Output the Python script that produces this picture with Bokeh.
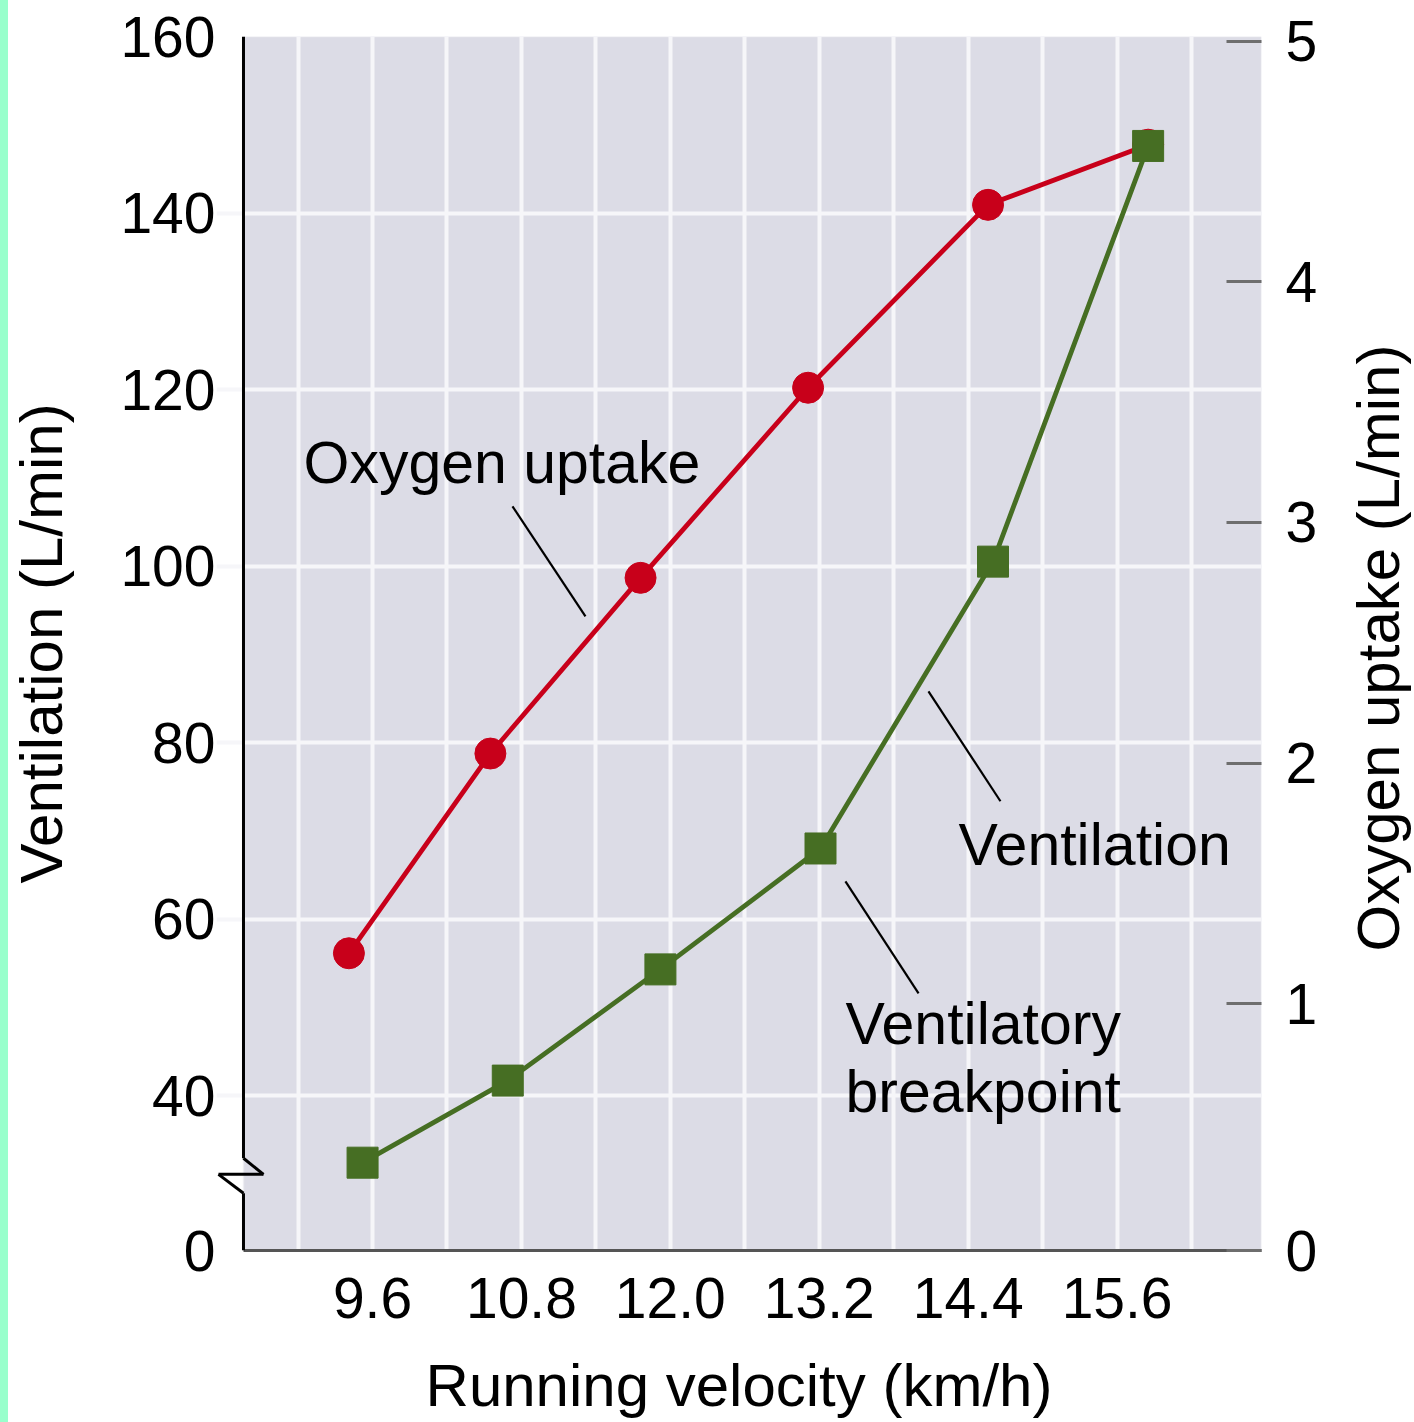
from bokeh.plotting import figure
from bokeh.layouts import row
from bokeh.models import (Range1d, LinearAxis, FixedTicker, CustomJSTickFormatter,
                          NumeralTickFormatter, Label, Arrow, BoxAnnotation, Div)
from bokeh.embed import file_html
from bokeh.resources import INLINE

# ---------------- data ----------------
velocity_o2 = [9.41, 10.55, 11.76, 13.11, 14.56, 15.85]      # km/h
oxygen_uptake = [1.21, 2.04, 2.77, 3.56, 4.32, 4.57]         # L/min (right axis)
velocity_ve = [9.52, 10.69, 11.92, 13.21, 14.60, 15.85]      # km/h
ventilation = [32.4, 41.7, 54.3, 68.0, 100.5, 147.6]         # L/min (left axis, broken)

x_ticks = [9.6, 10.8, 12.0, 13.2, 14.4, 15.6]
x_grid = [9.0, 9.6, 10.2, 10.8, 11.4, 12.0, 12.6, 13.2, 13.8, 14.4, 15.0, 15.6, 16.2]
left_ticks = [40, 60, 80, 100, 120, 140, 160]
right_ticks = [1, 2, 3, 4, 5]

# ---------------- ranges ----------------
X0, X1 = 8.3430, 16.7635         # frame (extends a bit left of the drawn axis)
X_AX = 8.5605                    # where the left axis line is drawn
VE0, VE1 = 22.45, 160.0          # left axis (broken: bottom shown as "0")
O20, O21 = -0.0251, 5.0195       # right axis

FONT = "Liberation Sans"
RED = "#c8001a"
GREEN = "#466e23"
BG = "#dcdce6"

p = figure(frame_width=1045, frame_height=1214,
           min_border_left=216, min_border_right=79,
           min_border_top=36, min_border_bottom=172,
           x_range=Range1d(X0, X1), y_range=Range1d(VE0, VE1),
           output_backend="svg", toolbar_location=None)
p.extra_y_ranges = {"o2": Range1d(O20, O21)}

p.background_fill_color = "white"
p.border_fill_color = "white"
p.outline_line_color = None

# plot area background (starts at the drawn axis)
p.add_layout(BoxAnnotation(left=X_AX, fill_color=BG, fill_alpha=1.0,
                           line_color="#ededf3", line_width=2, level="image"))

# grids
p.xgrid.ticker = FixedTicker(ticks=x_grid)
p.ygrid.ticker = FixedTicker(ticks=left_ticks)
for g in (p.xgrid, p.ygrid):
    g.grid_line_color = "#f6f6f9"
    g.grid_line_width = 4

# bottom axis
xa = p.xaxis[0]
xa.bounds = (X_AX, X1)
xa.ticker = FixedTicker(ticks=x_ticks)
xa.formatter = NumeralTickFormatter(format="0.0")
xa.axis_line_color = "#555555"
xa.axis_line_width = 3
xa.major_tick_line_color = None
xa.major_tick_out = 0
xa.major_tick_in = 0
xa.minor_tick_line_color = None
xa.major_label_standoff = 27
xa.major_label_text_font = FONT
xa.major_label_text_font_size = "57px"
xa.major_label_text_color = "black"
xa.axis_label = "Running velocity (km/h)"
xa.axis_label_text_font = FONT
xa.axis_label_text_font_size = "60px"
xa.axis_label_text_font_style = "normal"
xa.axis_label_text_color = "black"
xa.axis_label_standoff = 31

# left axis (ventilation)
ya = p.yaxis[0]
ya.ticker = FixedTicker(ticks=[VE0] + left_ticks)
ya.formatter = CustomJSTickFormatter(code="return tick < 30 ? '0' : tick.toFixed(0);")
ya.axis_line_color = None
ya.major_tick_line_color = None
ya.major_tick_out = 0
ya.major_tick_in = 0
ya.minor_tick_line_color = None
ya.major_label_standoff = 1
ya.major_label_text_font = FONT
ya.major_label_text_font_size = "57px"
ya.major_label_text_color = "black"
ya.axis_label = "Ventilation (L/min)"
ya.axis_label_text_font = FONT
ya.axis_label_text_font_size = "60px"
ya.axis_label_text_font_style = "normal"
ya.axis_label_text_color = "black"
ya.axis_label_standoff = 42

# right axis (oxygen uptake)
ra = LinearAxis(y_range_name="o2")
ra.ticker = FixedTicker(ticks=[O20] + right_ticks)
ra.formatter = CustomJSTickFormatter(code="return tick < 0.5 ? '0' : tick.toFixed(0);")
ra.axis_line_color = None
ra.major_tick_in = 35
ra.major_tick_out = 0
ra.major_tick_line_color = "#6e6e6e"
ra.major_tick_line_width = 3
ra.minor_tick_line_color = None
ra.major_label_standoff = 24
ra.major_label_text_font = FONT
ra.major_label_text_font_size = "57px"
ra.major_label_text_color = "black"
p.add_layout(ra, "right")

# left axis line with break marks
brk_top, brk_mid, brk_bot = 32.9, 31.08, 28.93
xr, xl = 8.7217, 8.359
axis_segs = [
    (X_AX, VE1, X_AX, brk_top),
    (X_AX, brk_top, xr, brk_mid),
    (xr, brk_mid, xl, brk_mid),
    (xl, brk_mid, X_AX, brk_bot),
    (X_AX, brk_bot, X_AX, VE0),
]
for (a, b, c, d) in axis_segs:
    p.add_layout(Arrow(end=None, x_start=a, y_start=b, x_end=c, y_end=d,
                       line_color="black", line_width=3))

# series
p.line(velocity_o2, oxygen_uptake, y_range_name="o2", line_color=RED, line_width=4.8)
p.scatter(velocity_o2, oxygen_uptake, y_range_name="o2", marker="circle", size=31,
          fill_color=RED, line_color=RED)
p.line(velocity_ve, ventilation, line_color=GREEN, line_width=4.8)
p.scatter(velocity_ve, ventilation, marker="square", size=31,
          fill_color=GREEN, line_color=GREEN)

# leader lines
leaders_x0 = [10.728, 14.08, 13.411]
leaders_y0 = [106.77, 85.81, 64.28]
leaders_x1 = [11.316, 14.66, 14.0]
leaders_y1 = [94.31, 73.35, 51.59]
p.segment(leaders_x0, leaders_y0, leaders_x1, leaders_y1, line_color="black", line_width=2.2)

# annotation texts (y = vertical centre of the capitals)
for (tx, ty, t) in [(9.044, 111.72, "Oxygen uptake"),
                    (14.322, 68.37, "Ventilation"),
                    (13.411, 48.09, "Ventilatory"),
                    (13.411, 40.39, "breakpoint")]:
    p.add_layout(Label(x=tx, y=ty, text=t, text_font=FONT, text_font_size="59px",
                       text_color="black", text_align="left", text_baseline="middle"))

# right-hand title, reading bottom-to-top, in a narrow companion canvas
# (its frame is aligned with the main frame by the row layout: page y 36..1250)
tfig = figure(width=73, height=1422, x_range=Range1d(0, 73), y_range=Range1d(1250, 36),
              x_axis_type=None, y_axis_type=None, min_border=0,
              output_backend="svg", toolbar_location=None)
tfig.outline_line_color = None
tfig.background_fill_color = "white"
tfig.border_fill_color = "white"
tfig.add_layout(Label(x=37.5, y=647.5, text="Oxygen uptake (L/min)", angle=90,
                      angle_units="deg", text_font=FONT, text_font_size="60px",
                      text_color="black", text_align="center", text_baseline="middle"))

# mint strip at the far left edge of the page
strip = Div(width=1, height=1,
            text='<div style="position:fixed;left:0;top:0;width:8px;height:1422px;'
                 'background:#99ffcc;"></div>')

layout = row(p, tfig, strip)

open("out.html", "w").write(file_html(layout, INLINE))
